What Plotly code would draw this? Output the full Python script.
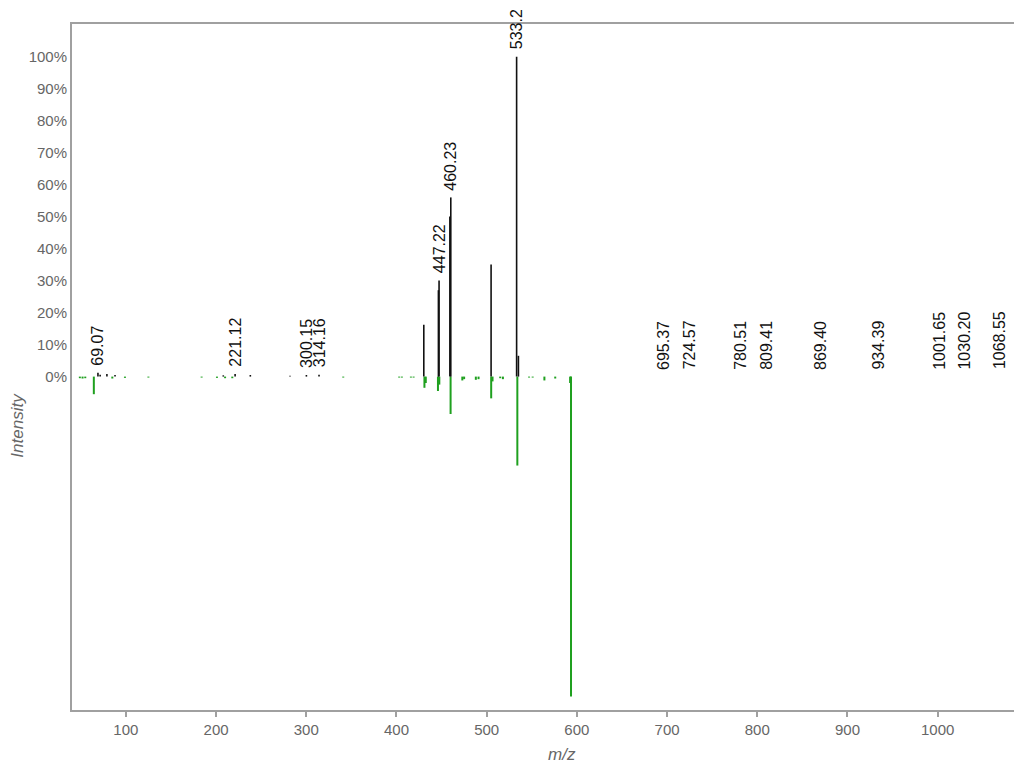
import plotly.graph_objects as go

# ---- data (m/z, relative intensity %) ----
top_mz = [69.07, 71.5, 79.0, 88.0, 208.0, 221.12, 238.0, 282.0, 300.15, 314.16,
          430.3, 446.5, 447.22, 459.2, 460.23, 504.9, 533.2, 535.2]
top_int = [1.2, 0.6, 0.8, 0.5, 0.4, 0.8, 0.5, 0.3, 0.5, 0.6,
           16.2, 27.0, 30.0, 50.0, 56.0, 35.0, 100.0, 6.5]

bottom_mz = [49.0, 52.0, 55.0, 64.5, 85.0, 99.0, 125.0, 184.0, 201.0, 210.0, 218.0,
             341.0, 403.0, 406.0, 416.0, 419.0, 431.0, 432.5, 446.0, 447.5, 460.0,
             473.0, 475.0, 488.0, 491.0, 505.0, 506.5, 515.0, 518.0, 534.0,
             547.0, 551.0, 564.0, 576.0, 592.5, 593.5]
bottom_int = [0.5, 0.6, 0.5, 5.5, 0.6, 0.4, 0.3, 0.3, 0.4, 0.5, 0.5,
              0.3, 0.3, 0.3, 0.3, 0.3, 3.5, 2.0, 4.5, 2.5, 11.7,
              1.2, 0.8, 1.0, 0.8, 6.8, 1.5, 0.5, 0.8, 27.8,
              0.3, 0.3, 1.2, 0.6, 2.0, 100.0]

label_mz = [69.07, 221.12, 300.15, 314.16, 447.22, 460.23, 533.2,
            695.37, 724.57, 780.51, 809.41, 869.40, 934.39, 1001.65, 1030.20, 1068.55]
label_int = [1.2, 0.8, 0.5, 0.6, 30.0, 56.0, 100.0,
             0, 0, 0, 0, 0, 0, 0, 0, 0]
label_text = ["69.07", "221.12", "300.15", "314.16", "447.22", "460.23", "533.2",
              "695.37", "724.57", "780.51", "809.41", "869.40", "934.39", "1001.65", "1030.20", "1068.55"]

y_ticks = [0, 10, 20, 30, 40, 50, 60, 70, 80, 90, 100]
y_tick_text = ["0%", "10%", "20%", "30%", "40%", "50%", "60%", "70%", "80%", "90%", "100%"]
x_ticks = [100, 200, 300, 400, 500, 600, 700, 800, 900, 1000]


def sticks(mz, inten, sign=1):
    xs, ys = [], []
    for m, v in zip(mz, inten):
        xs += [m, m, None]
        ys += [0, sign * v, None]
    return xs, ys


fig = go.Figure()
bx, by = sticks(bottom_mz, bottom_int, -1)
fig.add_trace(go.Scatter(x=bx, y=by, mode="lines",
                         line=dict(color="#1fa01f", width=2), hoverinfo="skip",
                         showlegend=False))
tx, ty = sticks(top_mz, top_int, 1)
fig.add_trace(go.Scatter(x=tx, y=ty, mode="lines",
                         line=dict(color="#111111", width=1.6), hoverinfo="skip",
                         showlegend=False))

annotations = []
for m, v, t in zip(label_mz, label_int, label_text):
    annotations.append(dict(x=m, y=v, xref="x", yref="y", text=t,
                            textangle=-90, showarrow=False, yanchor="bottom",
                            xanchor="center", yshift=5,
                            font=dict(family="Liberation Sans, Arial", size=16,
                                      color="#111111")))

annotations.append(dict(x=0.52, y=-0.065, xref="paper", yref="paper", text="m/z",
                        showarrow=False, yanchor="middle", xanchor="center",
                        font=dict(family="Liberation Sans, Arial", size=17,
                                  color="#666666", style="italic")))
annotations.append(dict(x=-0.058, y=0.415, xref="paper", yref="paper", text="Intensity",
                        showarrow=False, textangle=-90, yanchor="middle", xanchor="center",
                        font=dict(family="Liberation Sans, Arial", size=17,
                                  color="#666666", style="italic")))

fig.update_layout(
    width=1014, height=763,
    margin=dict(l=72, r=0, t=24, b=53),
    plot_bgcolor="white", paper_bgcolor="white",
    annotations=annotations,
    font=dict(family="Liberation Sans, Arial", color="#666666"),
    xaxis=dict(range=[40.3, 1084.6], tickvals=x_ticks, showgrid=False, zeroline=False,
               showline=True, linecolor="#a0a0a0", linewidth=2, mirror=True,
               ticks="outside", ticklen=5, tickcolor="#a0a0a0", tickwidth=1.5,
               tickfont=dict(size=15, color="#666666")),
    yaxis=dict(range=[-104.2, 110.2], tickmode="array", tickvals=y_ticks,
               ticktext=y_tick_text, showgrid=False,
               zeroline=False, showline=True, linecolor="#a0a0a0", linewidth=2,
               ticks="", tickfont=dict(size=15, color="#666666")),
)

fig.write_html("out.html")
